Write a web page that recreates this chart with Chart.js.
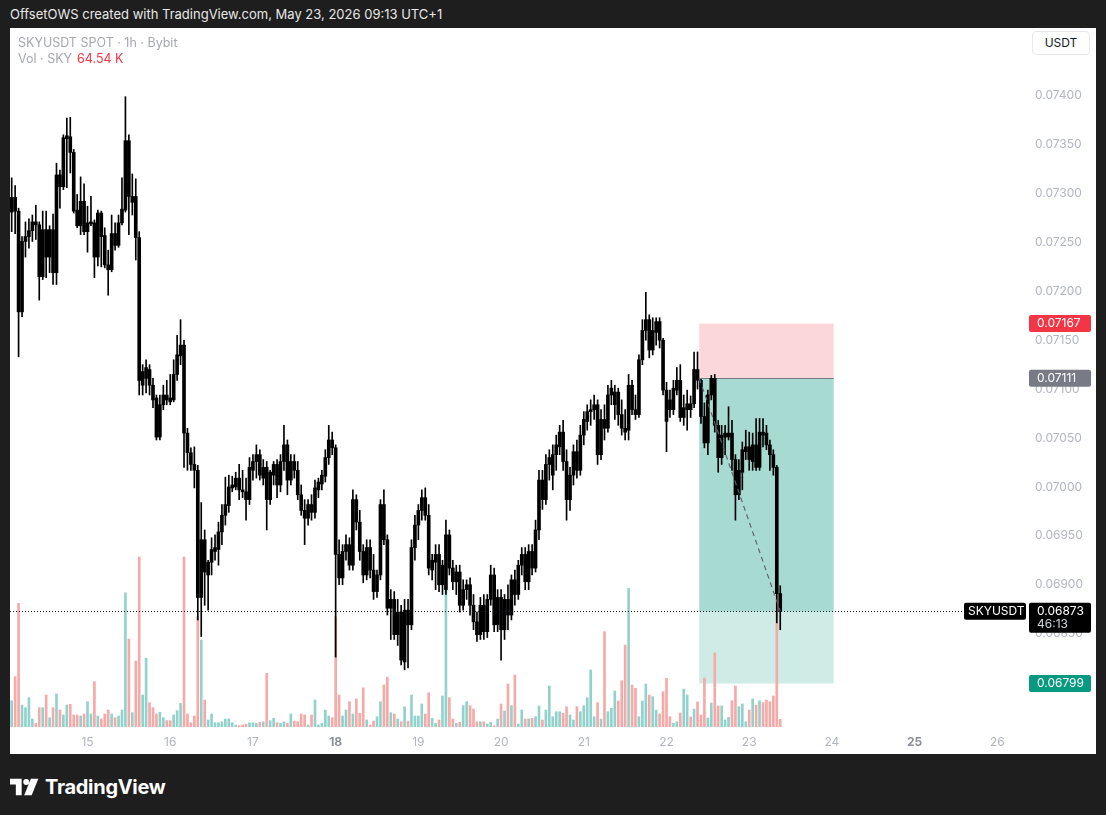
<!DOCTYPE html>
<html>
<head>
<meta charset="utf-8">
<script src="https://cdn.jsdelivr.net/npm/chart.js@4.4.1/dist/chart.umd.min.js"></script>
<style>
  html, body { margin: 0; padding: 0; width: 1106px; height: 815px; overflow: hidden; background: #1e1e1e; font-family: Inter, "Noto Sans", sans-serif; }
  #topline { position: absolute; left: 10px; top: 6px; font-size: 13px; color: #e8e8e8; white-space: nowrap; }
  #frame { position: absolute; left: 10px; top: 28px; width: 1086px; height: 726px; background: #fff; }
  #chart { position: absolute; left: 0; top: 0; }
  .legend { position: absolute; left: 8px; font-size: 12.5px; color: #a6a8b0; white-space: nowrap; }
  .legend .red { color: #f23645; margin-left: 5px; }
  #unit { position: absolute; left: 1022px; top: 3px; width: 58px; height: 24px; border: 1px solid #e6e8ee; border-radius: 4px; box-sizing: border-box; font-size: 12px; color: #131722; text-align: center; line-height: 22px; background: #fff; }
  #logo { position: absolute; left: 10px; top: 775px; display: flex; align-items: center; color: #fff; font-size: 20px; font-weight: 700; letter-spacing: -0.3px; }
  #logo svg { margin-right: 5px; }
</style>
</head>
<body>
<div id="topline">OffsetOWS created with TradingView.com, May 23, 2026 09:13 UTC+1</div>
<div id="frame">
  <canvas id="chart" width="1086" height="726"></canvas>
  <div class="legend" style="top:7px">SKYUSDT SPOT · 1h · Bybit</div>
  <div class="legend" style="top:23px">Vol · SKY<span class="red">64.54 K</span></div>
  <div id="unit">USDT</div>
</div>
<div id="logo">
  <svg width="30" height="20" viewBox="0 0 36 24"><path d="M0 2H14V22H7V9H0Z" fill="#fff"/><circle cx="19.5" cy="6" r="3.6" fill="#fff"/><path d="M25 2H34L26 22H17Z" fill="#fff"/></svg>
  <span>TradingView</span>
</div>
<script>
// hourly candles, first one May 14 02:00 (hours counted from May 14 00:00)
const startHour = 2;

const openP = [
0.07281,0.07296,0.07282,0.07179,0.07251,0.07256,0.07262,0.07271,0.07268,0.07215,
0.07263,0.07235,0.07263,0.07219,0.07319,0.07307,0.07356,0.07358,0.07342,0.07283,
0.07267,0.07292,0.07261,0.07269,0.07270,0.07235,0.07280,0.07257,0.07227,0.07222,
0.07259,0.07247,0.07270,0.07283,0.07354,0.07291,0.07297,0.07255,0.07104,0.07111,
0.07120,0.07104,0.07091,0.07051,0.07084,0.07094,0.07091,0.07089,0.07115,0.07134,
0.07145,0.07055,0.07035,0.07023,0.07017,0.06887,0.06946,0.06910,0.06923,0.06934,
0.06936,0.06954,0.06971,0.06981,0.06999,0.07000,0.07009,0.06997,0.06995,0.06987,
0.07017,0.07026,0.07033,0.07009,0.07020,0.06987,0.07012,0.07023,0.07002,0.07026,
0.07043,0.07007,0.07026,0.07017,0.06992,0.06976,0.06968,0.06982,0.06974,0.06997,
0.07003,0.07011,0.07030,0.07048,0.07040,0.06931,0.06907,0.06934,0.06941,0.06920,
0.06987,0.06964,0.06934,0.06910,0.06938,0.06915,0.06893,0.06910,0.06982,0.06946,
0.06876,0.06885,0.06849,0.06872,0.06821,0.06874,0.06859,0.06938,0.06961,0.06976,
0.06989,0.06971,0.06915,0.06923,0.06931,0.06900,0.06895,0.06951,0.06917,0.06903,
0.06913,0.06879,0.06895,0.06900,0.06879,0.06862,0.06849,0.06879,0.06852,0.06885,
0.06910,0.06859,0.06887,0.06854,0.06885,0.06869,0.06905,0.06890,0.06920,0.06931,
0.06903,0.06934,0.06917,0.06956,0.07007,0.06987,0.07023,0.07012,0.07033,0.07041,
0.07056,0.07026,0.06987,0.07012,0.07036,0.07017,0.07053,0.07067,0.07077,0.07079,
0.07084,0.07033,0.07069,0.07060,0.07094,0.07084,0.07097,0.07074,0.07060,0.07058,
0.07104,0.07079,0.07074,0.07130,0.07160,0.07171,0.07140,0.07158,0.07169,0.07150,
0.07099,0.07089,0.07079,0.07099,0.07109,0.07071,0.07079,0.07085,0.07085,0.07120,
0.07109,0.07072,0.07045,0.07094,0.07111,0.07063,0.07030,0.07051,0.07051,0.07055,
0.07028,0.06992,0.07015,0.07036,0.07041,0.07026,0.07043,0.07020,0.07056,0.07055,
0.07043,0.07033,0.07020,0.06891];

const highP = [
0.07316,0.07308,0.07285,0.07256,0.07271,0.07274,0.07278,0.07288,0.07271,0.07282,
0.07282,0.07267,0.07279,0.07331,0.07324,0.07360,0.07377,0.07378,0.07345,0.07299,
0.07317,0.07310,0.07287,0.07297,0.07273,0.07283,0.07282,0.07265,0.07242,0.07278,
0.07270,0.07278,0.07316,0.07399,0.07360,0.07320,0.07315,0.07261,0.07125,0.07130,
0.07125,0.07111,0.07094,0.07094,0.07104,0.07109,0.07115,0.07130,0.07155,0.07171,
0.07150,0.07060,0.07040,0.07041,0.07022,0.06984,0.06956,0.06925,0.06948,0.06951,
0.06964,0.06982,0.07010,0.07012,0.07011,0.07015,0.07023,0.07017,0.07009,0.07030,
0.07033,0.07043,0.07038,0.07028,0.07026,0.07017,0.07026,0.07028,0.07033,0.07063,
0.07048,0.07033,0.07033,0.07026,0.07002,0.06987,0.06987,0.06992,0.07007,0.07009,
0.07017,0.07038,0.07063,0.07056,0.07043,0.06946,0.06941,0.06951,0.06948,0.06997,
0.06992,0.06976,0.06941,0.06946,0.06946,0.06931,0.06915,0.06987,0.06997,0.06951,
0.06895,0.06893,0.06885,0.06879,0.06885,0.06885,0.06946,0.06971,0.06982,0.06997,
0.06999,0.06982,0.06931,0.06941,0.06941,0.06925,0.06966,0.06956,0.06925,0.06920,
0.06920,0.06905,0.06905,0.06907,0.06890,0.06872,0.06887,0.06890,0.06890,0.06920,
0.06917,0.06895,0.06895,0.06890,0.06900,0.06910,0.06915,0.06925,0.06938,0.06938,
0.06941,0.06941,0.06966,0.07017,0.07017,0.07033,0.07038,0.07043,0.07053,0.07063,
0.07068,0.07038,0.07020,0.07043,0.07048,0.07063,0.07077,0.07084,0.07089,0.07094,
0.07089,0.07079,0.07084,0.07104,0.07109,0.07104,0.07101,0.07089,0.07079,0.07115,
0.07109,0.07094,0.07135,0.07171,0.07199,0.07176,0.07173,0.07173,0.07173,0.07152,
0.07107,0.07099,0.07109,0.07122,0.07125,0.07094,0.07099,0.07093,0.07138,0.07138,
0.07110,0.07086,0.07099,0.07114,0.07115,0.07068,0.07063,0.07063,0.07082,0.07068,
0.07033,0.07028,0.07046,0.07058,0.07056,0.07055,0.07070,0.07070,0.07070,0.07063,
0.07048,0.07038,0.07022,0.06899];

const lowP = [
0.07261,0.07259,0.07133,0.07174,0.07235,0.07244,0.07251,0.07253,0.07191,0.07212,
0.07214,0.07219,0.07207,0.07207,0.07285,0.07304,0.07306,0.07321,0.07280,0.07265,
0.07258,0.07258,0.07240,0.07267,0.07214,0.07226,0.07225,0.07224,0.07196,0.07220,
0.07242,0.07245,0.07268,0.07281,0.07258,0.07278,0.07232,0.07094,0.07094,0.07096,
0.07094,0.07081,0.07048,0.07048,0.07079,0.07084,0.07084,0.07087,0.07109,0.07125,
0.07020,0.07017,0.07017,0.06999,0.06864,0.06847,0.06879,0.06874,0.06910,0.06925,
0.06920,0.06941,0.06961,0.06974,0.06995,0.06997,0.06987,0.06989,0.06966,0.06982,
0.07007,0.07009,0.07007,0.07002,0.06956,0.06982,0.07002,0.06989,0.06995,0.07017,
0.06992,0.07002,0.07009,0.06987,0.06971,0.06941,0.06961,0.06966,0.06968,0.06989,
0.06997,0.07005,0.07023,0.07033,0.06826,0.06900,0.06900,0.06925,0.06915,0.06915,
0.06956,0.06925,0.06902,0.06905,0.06907,0.06885,0.06887,0.06905,0.06941,0.06869,
0.06844,0.06844,0.06838,0.06818,0.06813,0.06815,0.06854,0.06925,0.06946,0.06966,
0.06966,0.06910,0.06905,0.06895,0.06893,0.06890,0.06890,0.06910,0.06895,0.06890,
0.06872,0.06874,0.06885,0.06869,0.06854,0.06842,0.06844,0.06844,0.06846,0.06879,
0.06852,0.06852,0.06823,0.06844,0.06854,0.06864,0.06879,0.06885,0.06910,0.06895,
0.06895,0.06910,0.06913,0.06946,0.06977,0.06982,0.07007,0.06997,0.07017,0.07033,
0.07017,0.06966,0.06976,0.07002,0.07009,0.07012,0.07043,0.07058,0.07063,0.07069,
0.07023,0.07028,0.07048,0.07056,0.07084,0.07069,0.07063,0.07053,0.07048,0.07048,
0.07074,0.07069,0.07071,0.07125,0.07150,0.07132,0.07135,0.07145,0.07142,0.07094,
0.07036,0.07071,0.07074,0.07094,0.07067,0.07063,0.07058,0.07071,0.07081,0.07100,
0.07065,0.07040,0.07033,0.07089,0.07056,0.07015,0.07023,0.07033,0.07048,0.07017,
0.06966,0.06987,0.06997,0.07028,0.07017,0.07017,0.07017,0.07017,0.07041,0.07038,
0.07017,0.07012,0.06861,0.06854];

const closeP = [
0.07296,0.07282,0.07179,0.07251,0.07256,0.07262,0.07271,0.07268,0.07215,0.07263,
0.07235,0.07263,0.07219,0.07319,0.07307,0.07357,0.07359,0.07342,0.07282,0.07267,
0.07292,0.07261,0.07270,0.07271,0.07235,0.07280,0.07256,0.07227,0.07222,0.07259,
0.07247,0.07270,0.07284,0.07354,0.07297,0.07297,0.07255,0.07109,0.07118,0.07122,
0.07104,0.07089,0.07051,0.07084,0.07094,0.07089,0.07087,0.07115,0.07135,0.07145,
0.07055,0.07035,0.07023,0.07017,0.06887,0.06946,0.06913,0.06923,0.06936,0.06938,
0.06954,0.06971,0.06982,0.07000,0.07002,0.07009,0.06997,0.06995,0.06987,0.07020,
0.07026,0.07033,0.07012,0.07020,0.06987,0.07015,0.07023,0.07002,0.07026,0.07043,
0.07007,0.07026,0.07017,0.06992,0.06976,0.06968,0.06982,0.06974,0.06999,0.07005,
0.07012,0.07030,0.07048,0.07040,0.06931,0.06907,0.06934,0.06941,0.06920,0.06987,
0.06964,0.06934,0.06910,0.06938,0.06915,0.06893,0.06910,0.06982,0.06946,0.06876,
0.06885,0.06849,0.06872,0.06823,0.06874,0.06859,0.06938,0.06961,0.06976,0.06989,
0.06971,0.06917,0.06925,0.06931,0.06900,0.06920,0.06951,0.06917,0.06903,0.06913,
0.06879,0.06895,0.06900,0.06879,0.06862,0.06849,0.06879,0.06852,0.06885,0.06910,
0.06859,0.06887,0.06854,0.06885,0.06869,0.06905,0.06890,0.06920,0.06931,0.06903,
0.06934,0.06917,0.06956,0.07007,0.06987,0.07023,0.07030,0.07033,0.07043,0.07056,
0.07026,0.06987,0.07012,0.07036,0.07017,0.07053,0.07069,0.07077,0.07079,0.07084,
0.07033,0.07069,0.07060,0.07094,0.07101,0.07097,0.07074,0.07060,0.07056,0.07104,
0.07079,0.07074,0.07130,0.07160,0.07171,0.07140,0.07160,0.07169,0.07150,0.07099,
0.07067,0.07079,0.07101,0.07109,0.07071,0.07081,0.07085,0.07079,0.07120,0.07109,
0.07072,0.07045,0.07094,0.07111,0.07063,0.07030,0.07053,0.07055,0.07055,0.07028,
0.06992,0.07017,0.07038,0.07041,0.07028,0.07043,0.07020,0.07056,0.07053,0.07043,
0.07033,0.07020,0.06891,0.06873];

// volume in thousands of SKY
const volumeK = [
220,422,1037,184,162,246,67,31,162,162,
268,78,162,277,142,101,184,190,101,101,
92,109,212,109,380,92,67,109,142,109,
78,92,142,1125,737,120,553,1425,268,576,
204,162,109,123,78,53,53,101,137,199,
1425,109,36,92,924,729,226,59,109,36,
36,44,67,67,36,17,11,17,25,36,
36,31,39,44,450,53,73,36,31,44,
31,109,50,44,109,101,17,101,226,17,
31,142,92,78,924,268,92,142,212,109,
235,115,329,59,17,50,86,212,352,416,
120,109,67,44,170,50,268,92,92,193,
109,287,73,31,59,260,1198,246,67,31,
39,179,212,179,151,44,44,44,25,39,
11,67,193,134,360,179,436,25,142,67,
67,73,86,176,59,142,344,86,128,128,
115,170,101,59,170,128,179,246,478,86,
204,67,799,128,156,302,218,388,687,1162,
352,324,86,218,360,268,254,142,109,296,
408,86,31,44,117,318,268,84,150,210,
101,411,75,201,620,176,176,59,81,220,
344,170,193,44,142,235,184,220,204,226,
212,260,1469,64.54];

const dayHours = [24, 48, 72, 96, 120, 144, 168, 192, 216, 240, 264, 288];
const dayLabels = ['15', '16', '17', '18', '19', '20', '21', '22', '23', '24', '25', '26'];
const weekStarts = ['18', '25'];
const priceTicks = [0.0680, 0.0685, 0.0690, 0.0695, 0.0700, 0.0705, 0.0710, 0.0715, 0.0720, 0.0725, 0.0730, 0.0735, 0.0740];

// short position tool
const entryPrice = 0.07111;
const stopPrice = 0.07167;
const targetPrice = 0.06799;
const lastPrice = 0.06873;
const toolStart = 201.5;
const toolEnd = 240.5;
const symbol = 'SKYUSDT';
const countdown = '46:13';

const hours = openP.map((_, i) => startHour + i);
const lastHour = hours[hours.length - 1];
const wicks = hours.map((h, i) => ({ x: h, y: [lowP[i], highP[i]] }));
const bodies = hours.map((h, i) => ({ x: h, y: [openP[i], closeP[i]] }));
const vols = hours.map((h, i) => ({ x: h, y: volumeK[i] }));
const volColors = hours.map((h, i) => closeP[i] >= openP[i] ? '#92d2cc' : '#f7a9a7');

Chart.defaults.font.family = 'Inter, "Noto Sans", sans-serif';
Chart.defaults.font.size = 12;

function tag(ctx, x, y, w, h, bg, lines, colors, pad) {
  ctx.fillStyle = bg;
  ctx.beginPath();
  ctx.roundRect(x, y, w, h, 2);
  ctx.fill();
  ctx.textAlign = 'left';
  ctx.textBaseline = 'middle';
  ctx.font = '12px Inter, "Noto Sans", sans-serif';
  lines.forEach((t, i) => {
    ctx.fillStyle = colors[i];
    ctx.fillText(t, x + pad, y + 8.5 + i * 13);
  });
}

const positionTool = {
  id: 'positionTool',
  beforeDatasetsDraw(chart) {
    const { ctx, scales: { x, y } } = chart;
    const x0 = x.getPixelForValue(toolStart), x1 = x.getPixelForValue(toolEnd);
    const yStop = y.getPixelForValue(stopPrice);
    const yEntry = y.getPixelForValue(entryPrice);
    const yTarget = y.getPixelForValue(targetPrice);
    const yLast = y.getPixelForValue(lastPrice);
    ctx.save();
    ctx.fillStyle = 'rgba(242,54,69,0.2)';
    ctx.fillRect(x0, yStop, x1 - x0, yEntry - yStop);
    ctx.fillStyle = 'rgba(8,153,129,0.2)';
    ctx.fillRect(x0, yEntry, x1 - x0, yTarget - yEntry);
    ctx.fillRect(x0, yEntry, x1 - x0, yLast - yEntry);
    ctx.strokeStyle = '#787b86';
    ctx.lineWidth = 1;
    ctx.beginPath();
    ctx.moveTo(x0, Math.round(yEntry) + 0.5);
    ctx.lineTo(x1, Math.round(yEntry) + 0.5);
    ctx.stroke();
    ctx.restore();
  },
  afterDatasetsDraw(chart) {
    const { ctx, chartArea, scales: { x, y } } = chart;
    const yLast = y.getPixelForValue(lastPrice);
    ctx.save();
    // trade path
    ctx.strokeStyle = '#5d606b';
    ctx.lineWidth = 1.2;
    ctx.setLineDash([5, 4]);
    ctx.beginPath();
    ctx.moveTo(x.getPixelForValue(toolStart), y.getPixelForValue(entryPrice));
    ctx.lineTo(x.getPixelForValue(lastHour), yLast);
    ctx.stroke();
    // last price line
    ctx.lineWidth = 1;
    ctx.strokeStyle = '#131722';
    ctx.setLineDash([1, 2]);
    ctx.beginPath();
    ctx.moveTo(chartArea.left, Math.round(yLast) + 0.5);
    ctx.lineTo(chartArea.right - 64, Math.round(yLast) + 0.5);
    ctx.stroke();
    ctx.setLineDash([]);
    // axis tags
    const ax = chartArea.right + 2;
    tag(ctx, ax, y.getPixelForValue(stopPrice) - 8.5, 62, 17, '#f23645', [stopPrice.toFixed(5)], ['#fff'], 8);
    tag(ctx, ax, y.getPixelForValue(entryPrice) - 8.5, 62, 17, '#787b86', [entryPrice.toFixed(5)], ['#fff'], 8);
    tag(ctx, ax, y.getPixelForValue(targetPrice) - 8.5, 62, 17, '#089981', [targetPrice.toFixed(5)], ['#fff'], 8);
    tag(ctx, ax, yLast - 8.5, 62, 30, '#000', [lastPrice.toFixed(5), countdown], ['#fff', '#d1d4dc'], 8);
    tag(ctx, chartArea.right - 63, yLast - 8.5, 62, 17, '#000', [symbol], ['#fff'], 4);
    ctx.restore();
  }
};

new Chart(document.getElementById('chart'), {
  type: 'bar',
  data: {
    datasets: [
      { data: vols, yAxisID: 'vol', backgroundColor: volColors, barThickness: 2, grouped: false, order: 3 },
      { data: wicks, yAxisID: 'y', backgroundColor: '#000', barThickness: 1, grouped: false, order: 2 },
      { data: bodies, yAxisID: 'y', backgroundColor: '#000', barThickness: 3, minBarLength: 1, grouped: false, order: 1 }
    ]
  },
  options: {
    responsive: false,
    animation: false,
    devicePixelRatio: 1,
    layout: { padding: 0 },
    plugins: { legend: { display: false }, tooltip: { enabled: false } },
    scales: {
      x: {
        type: 'linear',
        min: 1.51,
        max: 296.6,
        offset: false,
        grid: { display: false, drawTicks: false },
        border: { display: false },
        afterBuildTicks: s => { s.ticks = dayHours.map(v => ({ value: v })); },
        afterFit: s => { s.height = 27; s.paddingLeft = 0; s.paddingRight = 0; },
        ticks: {
          autoSkip: false,
          maxRotation: 0,
          padding: 8,
          callback: (v, i) => dayLabels[i],
          color: c => weekStarts.includes(dayLabels[c.index]) ? '#8c8f98' : '#b2b5be',
          font: c => ({ size: 12, weight: weekStarts.includes(dayLabels[c.index]) ? 'bold' : 'normal' })
        }
      },
      y: {
        position: 'right',
        min: 0.0675455,
        max: 0.0746922,
        grid: { display: false, drawTicks: false },
        border: { display: false },
        afterBuildTicks: s => { s.ticks = priceTicks.map(v => ({ value: v })); },
        afterFit: s => { s.width = 69; s.paddingTop = 0; s.paddingBottom = 0; },
        ticks: { padding: 8, color: '#b2b5be', callback: v => v.toFixed(5) }
      },
      vol: {
        display: false,
        min: 0,
        max: 5860
      }
    }
  },
  plugins: [positionTool]
});
</script>
</body>
</html>
